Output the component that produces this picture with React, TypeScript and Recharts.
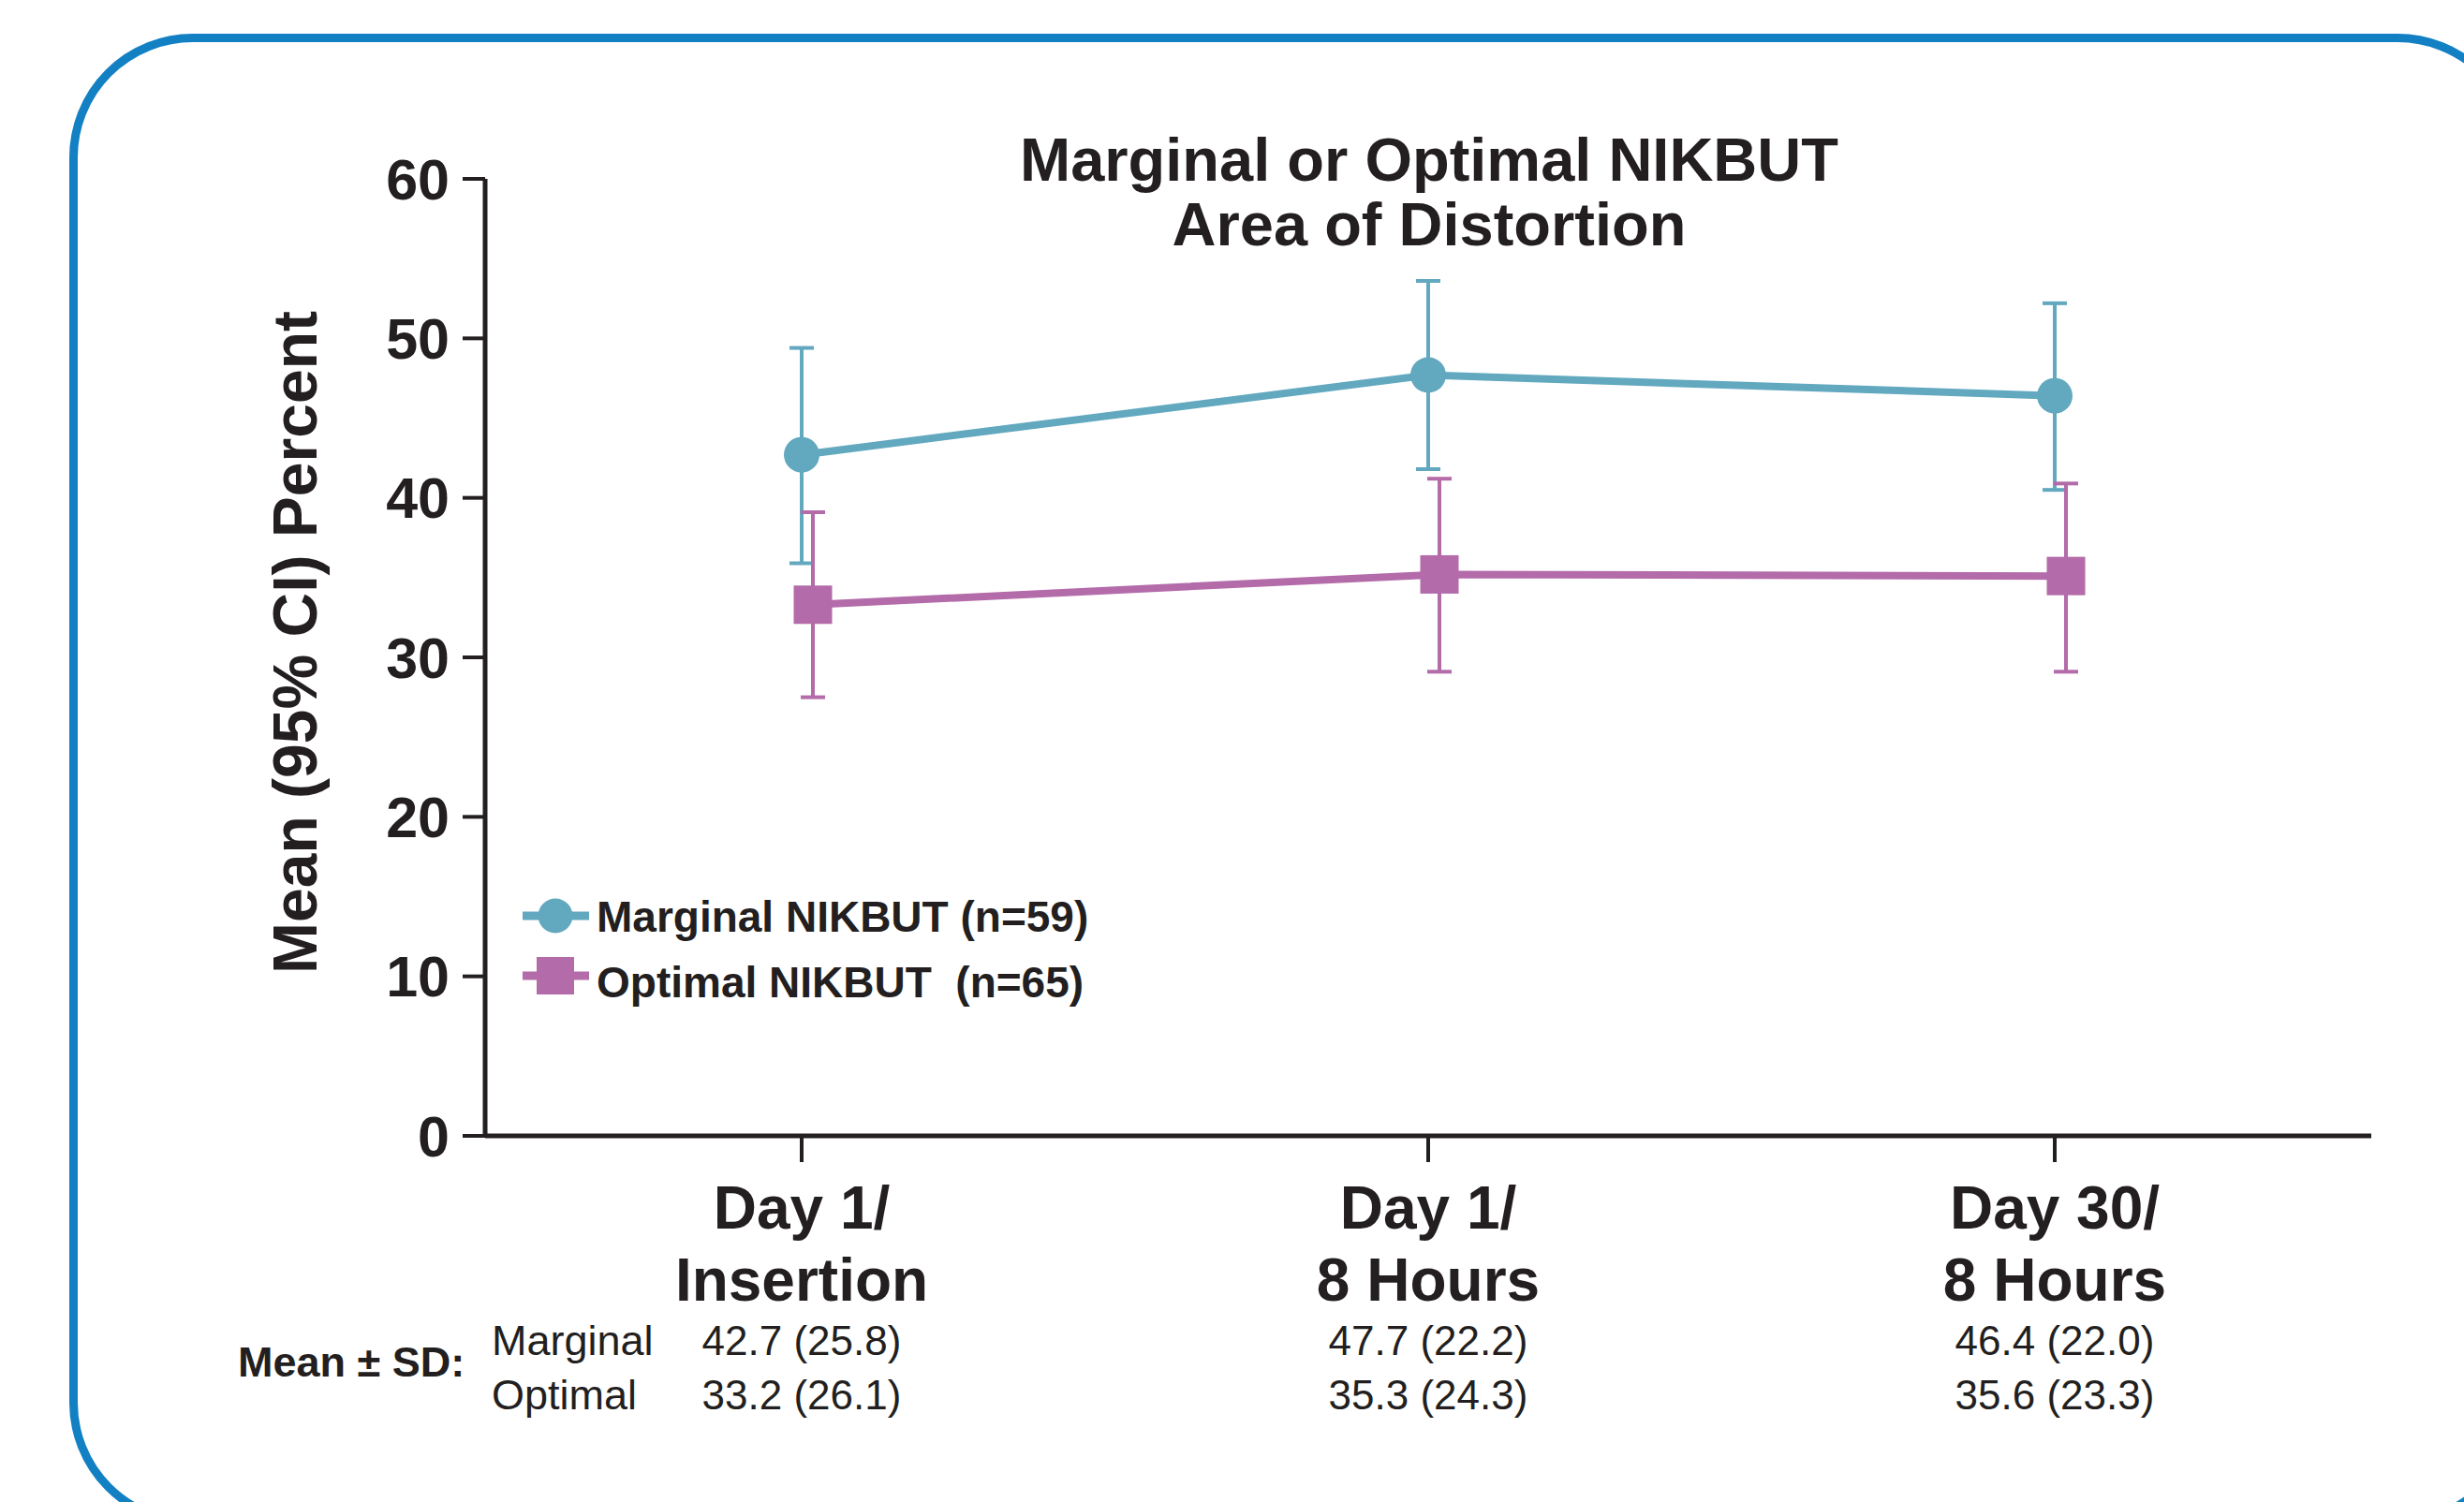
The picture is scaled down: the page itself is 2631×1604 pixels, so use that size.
import { LineChart, Line, XAxis, YAxis, ErrorBar, Legend } from 'recharts';

const INK = '#231f20';
const TEAL = '#62a8bf';
const PURPLE = '#b36baa';
const FRAME = '#1380c4';
const FONT = '"Liberation Sans", Arial, Helvetica, sans-serif';

const categories = ['Day 1/Insertion', 'Day 1/8 Hours', 'Day 30/8 Hours'];
const tickTop = ['Day 1/', 'Day 1/', 'Day 30/'];
const tickBottom = ['Insertion', '8 Hours', '8 Hours'];

const marginalMean = [42.7, 47.7, 46.4];
const marginalLow = [35.9, 41.8, 40.5];
const marginalHigh = [49.4, 53.6, 52.2];

const optimalMean = [33.3, 35.2, 35.1];
const optimalLow = [27.5, 29.1, 29.1];
const optimalHigh = [39.1, 41.2, 40.9];

const marginalSummary = ['42.7 (25.8)', '47.7 (22.2)', '46.4 (22.0)'];
const optimalSummary = ['33.2 (26.1)', '35.3 (24.3)', '35.6 (23.3)'];

const yTicks = [0, 10, 20, 30, 40, 50, 60];

const seriesNames = ['Marginal NIKBUT (n=59)', 'Optimal NIKBUT  (n=65)'];

const data = categories.map((name, i) => ({
  name,
  marginal: marginalMean[i],
  marginalErr: [marginalMean[i] - marginalLow[i], marginalHigh[i] - marginalMean[i]],
  optimal: optimalMean[i],
  optimalErr: [optimalMean[i] - optimalLow[i], optimalHigh[i] - optimalMean[i]],
}));

function CategoryTick(props: any) {
  const { x, y, payload } = props;
  const i = categories.indexOf(payload.value);
  return (
    <g fontFamily={FONT} fill={INK}>
      <text x={x} y={y + 71} textAnchor="middle" fontSize={64} fontWeight={700}>
        {tickTop[i]}
      </text>
      <text x={x} y={y + 148} textAnchor="middle" fontSize={64} fontWeight={700}>
        {tickBottom[i]}
      </text>
      <text x={x} y={y + 206} textAnchor="middle" fontSize={44}>
        {marginalSummary[i]}
      </text>
      <text x={x} y={y + 264} textAnchor="middle" fontSize={44}>
        {optimalSummary[i]}
      </text>
    </g>
  );
}

function SquareDot(props: any) {
  const { cx, cy, index } = props;
  if (cx == null || cy == null) return null;
  return <rect key={`sq-${index}`} x={cx - 20.5} y={cy - 20.5} width={41} height={41} fill={PURPLE} />;
}

function LegendBox() {
  return (
    <svg width={700} height={160} style={{ overflow: 'visible' }}>
      <g fontFamily={FONT} fontWeight={700} fontSize={46} fill={INK}>
        <line x1={18} x2={89} y1={48} y2={48} stroke={TEAL} strokeWidth={9} />
        <circle cx={53} cy={48} r={18.5} fill={TEAL} />
        <text x={97} y={65}>{seriesNames[0]}</text>
        <line x1={18} x2={89} y1={112} y2={112} stroke={PURPLE} strokeWidth={9} />
        <rect x={33} y={92} width={40} height={40} fill={PURPLE} />
        <text x={97} y={135} style={{ whiteSpace: 'pre' }}>
          {seriesNames[1]}
        </text>
      </g>
    </svg>
  );
}

export default function App() {
  return (
    <div
      style={{
        position: 'absolute',
        left: 0,
        top: 0,
        width: 2631,
        height: 1604,
        overflow: 'hidden',
        background: '#fff',
      }}
    >
      <div
        style={{
          position: 'absolute',
          left: 74,
          top: 36,
          width: 2618,
          height: 1594,
          boxSizing: 'border-box',
          border: `9px solid ${FRAME}`,
          borderRadius: 132,
        }}
      />
      <div style={{ position: 'absolute', left: 0, top: 0 }}>
        <LineChart
          width={2631}
          height={1604}
          data={data}
          margin={{ top: 191, right: 99, bottom: 0, left: 0 }}
        >
          <XAxis
            xAxisId="m"
            dataKey="name"
            scale="point"
            padding={{ left: 338, right: 338 }}
            height={391}
            interval={0}
            axisLine={{ stroke: INK, strokeWidth: 5 }}
            tickLine={{ stroke: INK, strokeWidth: 4 }}
            tickSize={28}
            tickMargin={0}
            tick={<CategoryTick />}
          />
          <XAxis
            xAxisId="o"
            dataKey="name"
            scale="point"
            padding={{ left: 350, right: 326 }}
            hide
          />
          <YAxis
            domain={[0, 60]}
            ticks={yTicks}
            width={518}
            interval={0}
            axisLine={{ stroke: INK, strokeWidth: 5 }}
            tickLine={{ stroke: INK, strokeWidth: 4 }}
            tickSize={24}
            tickMargin={14}
            tick={{ fill: INK, fontSize: 61, fontWeight: 700, fontFamily: FONT }}
          />
          <Line
            xAxisId="m"
            dataKey="marginal"
            name={seriesNames[0]}
            type="linear"
            stroke={TEAL}
            strokeWidth={8}
            dot={{ r: 19, fill: TEAL, stroke: 'none' }}
            activeDot={false}
            isAnimationActive={false}
          >
            <ErrorBar dataKey="marginalErr" direction="y" width={13} strokeWidth={4} stroke={TEAL} />
          </Line>
          <Line
            xAxisId="o"
            dataKey="optimal"
            name={seriesNames[1]}
            type="linear"
            stroke={PURPLE}
            strokeWidth={8}
            dot={<SquareDot />}
            activeDot={false}
            isAnimationActive={false}
          >
            <ErrorBar dataKey="optimalErr" direction="y" width={13} strokeWidth={4} stroke={PURPLE} />
          </Line>
          <Legend
            layout="horizontal"
            align="center"
            verticalAlign="middle"
            content={() => <LegendBox />}
            wrapperStyle={{ position: 'absolute', left: 540, top: 930, width: 700, height: 160 }}
          />
        </LineChart>
      </div>
      <svg
        width={2631}
        height={1604}
        style={{ position: 'absolute', left: 0, top: 0, pointerEvents: 'none' }}
      >
        <g fontFamily={FONT} fill={INK}>
          <text x={1526} y={193} textAnchor="middle" fontSize={65} fontWeight={700}>
            Marginal or Optimal NIKBUT
          </text>
          <text x={1526} y={262} textAnchor="middle" fontSize={65} fontWeight={700}>
            Area of Distortion
          </text>
          <text
            transform="translate(338,686) rotate(-90)"
            textAnchor="middle"
            fontSize={66}
            fontWeight={700}
          >
            Mean (95% CI) Percent
          </text>
          <text x={254} y={1470} fontSize={45} fontWeight={700}>
            Mean ± SD:
          </text>
          <text x={525} y={1447} fontSize={45}>
            Marginal
          </text>
          <text x={525} y={1505} fontSize={45}>
            Optimal
          </text>
        </g>
      </svg>
    </div>
  );
}
